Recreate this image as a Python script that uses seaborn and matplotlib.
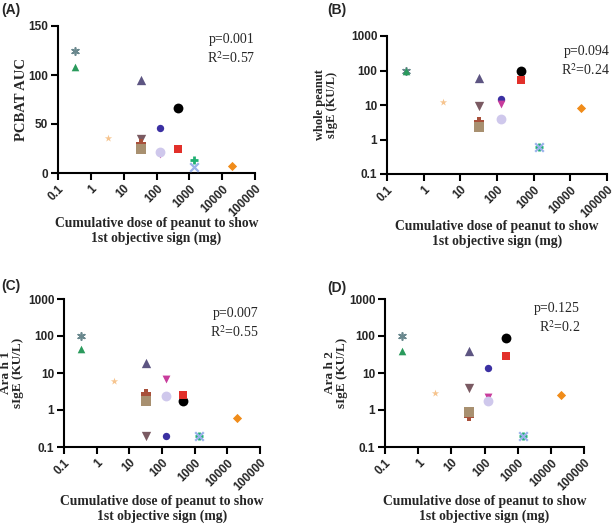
import numpy as np
import pandas as pd
import matplotlib
matplotlib.use("Agg")
import matplotlib.pyplot as plt
import seaborn as sns

# ---- data ----
subjects = ["S1", "S2", "S3", "S4", "S5", "S6", "S7", "S8", "S9", "S10", "S11", "S12", "S13", "S14", "S15"]
dose_mg = [0.33, 0.33, 3.3, 33, 33, 33, 33, 130, 130, 130, 450, 450, 1400, 1400, 20000]
pcbat_auc = [124, 108, 36, 95, 35, 30, 24, 46, 19, 21, 66, 24, 13, 6.5, 7.5]
whole_peanut_ige = [100, 100, 12.5, 62, 9.5, 3.3, 2.3, 15, 10.5, 3.9, 100, 53, 0.6, 0.6, 8.4]
ara_h1_ige = [100, 45, 6, 19, 0.2, 2.7, 1.8, 0.2, 7, 2.4, 1.8, 2.5, 0.2, 0.2, 0.62]
ara_h2_ige = [100, 39, 2.9, 39, 4, 0.68, 0.87, 13.5, 2.3, 1.8, 87, 29, 0.2, 0.2, 2.6]
colors = ["#6a888e", "#2a9a5c", "#f6c48e", "#5d5582", "#7a5a62", "#a8503a", "#a89070",
          "#3b30a2", "#c83c9c", "#cfc8ec", "#000000", "#e2302a", "#1fb072", "#9ab2ea", "#f08c1a"]
markers = [(6, 2, 0), "^", "*", "^", "v", "P", "s", "o", "v", "o", "o", "s", "+", "x", "D"]
sizes = [28, 30, 30, 45, 45, 55, 45, 28, 32, 50, 50, 34, 40, 38, 22]
line_w = [1.2, 0, 0, 0, 0, 0, 0, 0, 0, 0, 0, 0, 2.0, 1.6, 0]

panels = [
    ("(A)", pcbat_auc, "PCBAT AUC", "p=0.001", "0.57", False),
    ("(B)", whole_peanut_ige, "whole peanut\nsIgE (KU/L)", "p=0.094", "0.24", True),
    ("(C)", ara_h1_ige, "Ara h 1\nsIgE (KU/L)", "p=0.007", "0.55", True),
    ("(D)", ara_h2_ige, "Ara h 2\nsIgE (KU/L)", "p=0.125", "0.2", True),
]

W, H = 614, 527
# axes boxes in pixels: left, right, top, bottom
boxes = [(58, 255, 26, 173), (387, 607, 36, 174), (64, 260, 299, 447), (385, 584, 299, 447)]
panel_lbl_pos = [(1, 10), (327, 10), (1, 286), (327, 288)]
ylabel_x = [22, 326, 12, 336]
ylabel_fs = [10.5, 9, 9.5, 9.5]
pr_pos = [(255, 33), (610, 45), (258, 307), (580, 302)]
xlab_y = [231, 234, 509, 509]

sns.set_theme(style="ticks")
plt.rcParams["font.family"] = ["Liberation Sans", "DejaVu Sans"]

fig = plt.figure(figsize=(W / 100, H / 100), dpi=100)

serif = ["Liberation Serif", "DejaVu Serif"]
sans = ["Liberation Sans", "DejaVu Sans"]

for i, (plab, yvals, ylab, ptxt, r2, logy) in enumerate(panels):
    l, r, t, b = boxes[i]
    ax = fig.add_axes([l / W, 1 - b / H, (r - l) / W, (b - t) / H])
    df = pd.DataFrame({"subject": subjects, "dose": dose_mg, "value": yvals})
    for j, s in enumerate(subjects):
        sub = df[df["subject"] == s]
        m = markers[j]
        if line_w[j] > 0:
            kw = dict(linewidth=line_w[j], edgecolor=colors[j])
        else:
            kw = dict(linewidth=0)
        sns.scatterplot(data=sub, x="dose", y="value", ax=ax, color=colors[j],
                        marker=m, s=sizes[j], legend=False, clip_on=False, zorder=3, **kw)
    ax.set_xscale("log")
    ax.set_xlim(0.1, 1e5)
    ax.set_xticks([0.1, 1, 10, 100, 1000, 10000, 100000])
    ax.set_xticklabels(["0.1", "1", "10", "100", "1000", "10000", "100000"],
                       rotation=45, ha="right", rotation_mode="anchor")
    ax.xaxis.set_minor_locator(matplotlib.ticker.NullLocator())
    if logy:
        ax.set_yscale("log")
        ax.set_ylim(0.1, 1000)
        ax.set_yticks([0.1, 1, 10, 100, 1000])
        ax.set_yticklabels(["0.1", "1", "10", "100", "1000"])
        ax.yaxis.set_minor_locator(matplotlib.ticker.NullLocator())
    else:
        ax.set_ylim(0, 150)
        ax.set_yticks([0, 50, 100, 150])
        ax.set_yticklabels(["0", "50", "100", "150"])
    ax.set_xlabel("")
    ax.set_ylabel("")
    for sp in ["top", "right"]:
        ax.spines[sp].set_visible(False)
    for sp in ["left", "bottom"]:
        ax.spines[sp].set_linewidth(1.5)
        ax.spines[sp].set_color("black")
    ax.tick_params(axis="both", which="major", length=5, width=1.5, color="black",
                   labelsize=8.5, pad=2)
    for tl in ax.get_xticklabels() + ax.get_yticklabels():
        tl.set_fontweight("bold")
        tl.set_family(sans)
    ax.set_facecolor("none")

    # texts
    fig.text(panel_lbl_pos[i][0] / W, 1 - panel_lbl_pos[i][1] / H, plab,
             fontsize=10, fontweight="bold", family=sans, ha="left", va="center")
    fig.text(ylabel_x[i] / W, 1 - ((t + b) / 2) / H, ylab, rotation=90,
             fontsize=ylabel_fs[i], fontweight="bold", family=serif,
             ha="center", va="center", multialignment="center", linespacing=1.05)
    fig.text(pr_pos[i][0] / W, 1 - pr_pos[i][1] / H, ptxt + "\n" + r"R$^2$=" + r2,
             fontsize=10, family=serif, ha="right", va="top", linespacing=1.3,
             math_fontfamily="stix")
    fig.text(((l + r) / 2) / W, 1 - xlab_y[i] / H,
             "Cumulative dose of peanut to show\n1st objective sign (mg)",
             fontsize=9.8, fontweight="bold", family=serif, ha="center", va="center",
             linespacing=1.15)

fig.savefig("out.png", dpi=100, facecolor="white")
